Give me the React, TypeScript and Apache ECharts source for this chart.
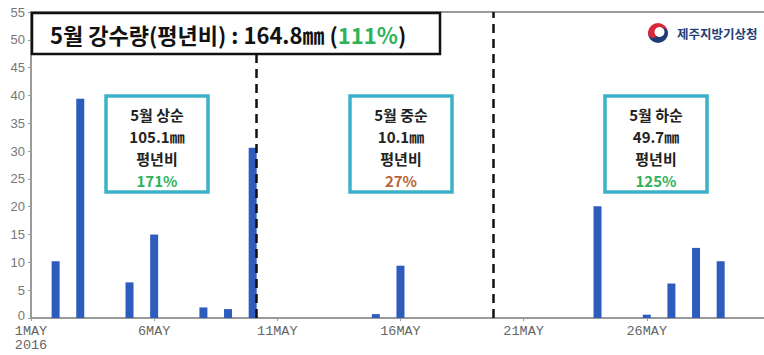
import React, { useEffect, useRef } from "react";
import * as echarts from "echarts";

// Daily precipitation, May 2016 (mm) — day of month and value
const RAIN_DAYS = [2, 3, 5, 6, 8, 9, 10, 15, 16, 24, 26, 27, 28, 29];
const RAIN_MM = [10.2, 39.4, 6.4, 15.0, 1.9, 1.6, 30.6, 0.7, 9.4, 20.1, 0.6, 6.2, 12.6, 10.2];

// Dekad divider positions (day of month)
const DIVIDER_DAYS = [10.15, 19.76];

// Dekad summaries
const PERIOD_NAMES = ["5월 상순", "5월 중순", "5월 하순"];
const PERIOD_MM = ["105.1", "10.1", "49.7"];
const PERIOD_RATIO = [171, 27, 125];

const MONTH_TOTAL = "164.8";
const MONTH_RATIO = 111;

const Y_MIN = 0;
const Y_MAX = 55;
const Y_STEP = 5;

const KR = "'Noto Sans CJK KR', 'Noto Sans', sans-serif";
const GREEN = "#2fb25a";
const BROWN = "#b8653a";
const TEAL = "#3bb2c5";

export default function App() {
  const ref = useRef<HTMLDivElement>(null);

  useEffect(() => {
    if (!ref.current) return;
    const chart = echarts.init(ref.current, undefined, { renderer: "svg" });

    const boxCenters = [157, 401, 656];
    const boxGraphics: any[] = [];
    PERIOD_NAMES.forEach((name, i) => {
      const cx = boxCenters[i];
      boxGraphics.push({
        type: "rect",
        shape: { x: cx - 51, y: 96, width: 102, height: 96 },
        style: { fill: "#fff", stroke: TEAL, lineWidth: 3.5 },
        z: 100,
      });
      const ratioColor = PERIOD_RATIO[i] >= 100 ? GREEN : BROWN;
      const lines = [name, PERIOD_MM[i] + "㎜", "평년비", PERIOD_RATIO[i] + "%"];
      lines.forEach((t, j) => {
        boxGraphics.push({
          type: "text",
          x: cx,
          y: 114 + j * 22,
          style: {
            text: t,
            fill: j === 3 ? ratioColor : "#222",
            font: `bold 15px ${KR}`,
            align: "center",
            verticalAlign: "middle",
          },
          z: 101,
        });
      });
    });

    const option: any = {
      animation: false,
      grid: {
        left: 31,
        right: -1,
        top: 12,
        bottom: 37,
        show: true,
        borderColor: "#9a9a9a",
        borderWidth: 2,
        outerBoundsMode: "none",
        containLabel: false,
      },
      xAxis: {
        type: "value",
        min: 0,
        max: 29.8,
        interval: 5,
        axisLine: { show: true, lineStyle: { color: "#9a9a9a", width: 2 } },
        axisTick: { show: true, length: 3, lineStyle: { color: "#9a9a9a" } },
        splitLine: { show: false },
        axisLabel: {
          color: "#666",
          fontFamily: "'Liberation Mono', monospace",
          fontSize: 13.5,
          lineHeight: 14,
          margin: 6,
          showMaxLabel: false,
          formatter: (v: number) => (v === 0 ? `${v + 1}MAY\n2016` : `${v + 1}MAY`),
        },
      },
      yAxis: {
        type: "value",
        min: Y_MIN,
        max: Y_MAX,
        interval: Y_STEP,
        axisLine: { show: true, lineStyle: { color: "#9a9a9a", width: 2 } },
        axisTick: { show: true, length: 3, lineStyle: { color: "#9a9a9a" } },
        splitLine: { show: false },
        axisLabel: {
          color: "#777",
          fontFamily: "'Liberation Sans', sans-serif",
          fontSize: 13,
          margin: 6,
          formatter: (v: number) => (v === 0 ? `{z|${v}}` : `${v}`),
          rich: {
            z: {
              color: "#777",
              fontFamily: "'Liberation Sans', sans-serif",
              fontSize: 13,
              padding: [0, 0, 5, 0],
            },
          },
        },
      },
      series: [
        {
          type: "bar",
          barWidth: 8,
          itemStyle: { color: "#2e5cbd" },
          data: RAIN_DAYS.map((d, i) => [d - 1, RAIN_MM[i]]),
          markLine: {
            silent: true,
            symbol: ["none", "none"],
            label: { show: false },
            lineStyle: { color: "#111", type: [9, 6], width: 2.5 },
            data: DIVIDER_DAYS.map((d) => ({ xAxis: d - 1 })),
          },
        },
      ],
      graphic: [
        {
          type: "rect",
          shape: { x: 32, y: 13, width: 408, height: 41 },
          style: { fill: "#fff", stroke: "#111", lineWidth: 2.5 },
          z: 100,
        },
        {
          type: "text",
          x: 50,
          y: 34,
          style: {
            text: `{a|5월 강수량(평년비) : ${MONTH_TOTAL}㎜ (}{g|${MONTH_RATIO}%}{a|)}`,
            verticalAlign: "middle",
            rich: {
              a: { font: `bold 22px ${KR}`, fill: "#111" },
              g: { font: `bold 22px ${KR}`, fill: GREEN },
            },
          },
          z: 101,
        },
        ...boxGraphics,
        {
          type: "group",
          x: 658,
          y: 33,
          z: 101,
          children: [
            { type: "sector", shape: { cx: 0, cy: 0, r: 10, r0: 0, startAngle: Math.PI, endAngle: Math.PI * 2 }, style: { fill: "#d8283c" } },
            { type: "sector", shape: { cx: 0, cy: 0, r: 10, r0: 0, startAngle: 0, endAngle: Math.PI }, style: { fill: "#1f3b75" } },
            { type: "circle", shape: { cx: -5, cy: 0, r: 5 }, style: { fill: "#d8283c" } },
            { type: "circle", shape: { cx: 5, cy: 0, r: 5 }, style: { fill: "#1f3b75" } },
            { type: "circle", shape: { cx: 1.5, cy: -1, r: 5 }, style: { fill: "#fff" } },
          ],
        },
        {
          type: "text",
          x: 677,
          y: 33,
          style: {
            text: "제주지방기상청",
            fill: "#233f78",
            font: `bold 12.5px ${KR}`,
            verticalAlign: "middle",
          },
          z: 101,
        },
      ],
    };

    chart.setOption(option);
    return () => chart.dispose();
  }, []);

  return (
    <div
      ref={ref}
      style={{ position: "absolute", left: 0, top: 0, width: 764, height: 355, background: "#fff" }}
    />
  );
}
